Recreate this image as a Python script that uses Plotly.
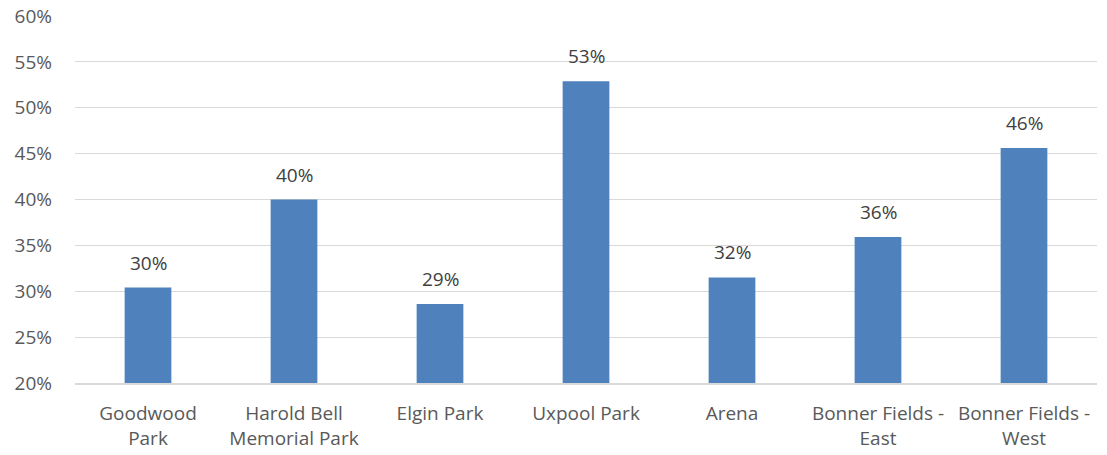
import plotly.graph_objects as go

# Share of respondents by facility
facilities = [
    "Goodwood<br>Park",
    "Harold Bell<br>Memorial Park",
    "Elgin Park",
    "Uxpool Park",
    "Arena",
    "Bonner Fields -<br>East",
    "Bonner Fields -<br>West",
]
shares = [0.304, 0.400, 0.286, 0.529, 0.315, 0.359, 0.456]

y_ticks = [0.20, 0.25, 0.30, 0.35, 0.40, 0.45, 0.50, 0.55, 0.60]

BAR_COLOR = "#4f81bd"
TEXT_COLOR = "#595959"
LABEL_COLOR = "#404040"
FONT = "Open Sans, Calibri, sans-serif"
FONT_SIZE = 19

fig = go.Figure()
fig.add_trace(
    go.Bar(
        x=facilities,
        y=shares,
        base=0,
        width=0.32,
        marker=dict(color=BAR_COLOR, line=dict(width=0)),
        hoverinfo="skip",
    )
)

# Value labels above each bar
for name, val in zip(facilities, shares):
    fig.add_annotation(
        x=name,
        y=val,
        text=f"{val:.0%}",
        showarrow=False,
        yanchor="bottom",
        yshift=10,
        font=dict(family=FONT, size=FONT_SIZE, color=LABEL_COLOR),
    )

fig.update_layout(
    width=1107,
    height=455,
    margin=dict(l=75, r=10, t=16, b=72, autoexpand=False),
    paper_bgcolor="white",
    plot_bgcolor="white",
    showlegend=False,
    font=dict(family=FONT, size=FONT_SIZE, color=TEXT_COLOR),
)
fig.update_yaxes(
    range=[0.20, 0.60],
    tickvals=y_ticks,
    tickformat=".0%",
    showgrid=True,
    gridcolor="#d9d9d9",
    gridwidth=1,
    zeroline=False,
    showline=False,
    ticks="",
    automargin=False,
    ticklabelstandoff=22,
    tickfont=dict(family=FONT, size=FONT_SIZE, color=TEXT_COLOR),
)
fig.update_xaxes(
    showline=True,
    linecolor="#d9d9d9",
    linewidth=2,
    ticks="",
    showgrid=False,
    automargin=False,
    ticklabelstandoff=12,
    tickfont=dict(family=FONT, size=FONT_SIZE, color=TEXT_COLOR),
)

fig.write_html("out.html")
